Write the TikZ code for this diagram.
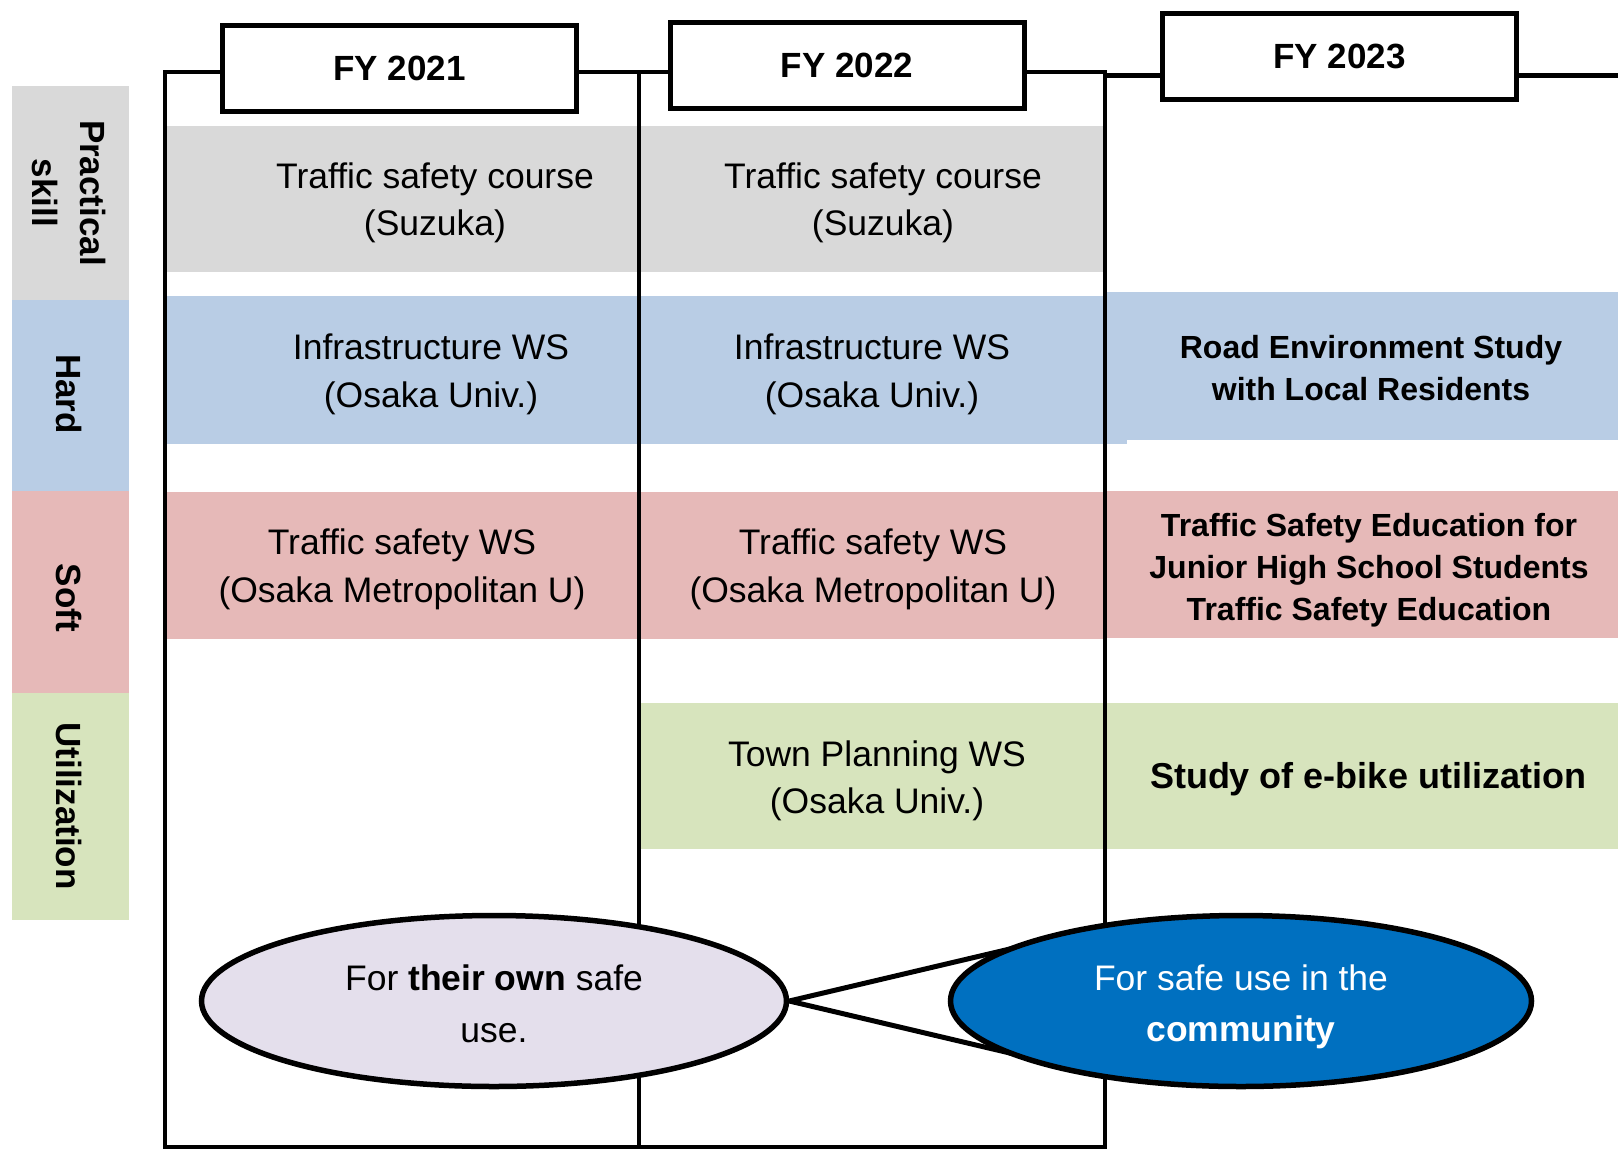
\documentclass[tikz,border=0pt]{standalone}
\usepackage{fontspec}
\setmainfont{Liberation Sans}
\usetikzlibrary{shapes.geometric,backgrounds,calc}
\definecolor{skillgray}{HTML}{D9D9D9}
\definecolor{hardblue}{HTML}{B9CDE5}
\definecolor{softpink}{HTML}{E6B9B8}
\definecolor{usegreen}{HTML}{D7E4BD}
\definecolor{ownlav}{HTML}{E4DFEC}
\definecolor{commblue}{HTML}{0070C0}
\begin{document}
\begin{tikzpicture}[x=1pt,y=-1pt,
  yearbox/.style={draw=black, line width=5pt, fill=white, minimum width=354pt,
    minimum height=86pt, inner sep=0pt, font=\fontsize{35}{42}\selectfont\bfseries},
  frameline/.style={draw=black, line width=4.5pt},
  catlabel/.style={rotate=-90, align=center, inner sep=0pt,
    font=\fontsize{35}{47.5}\selectfont\bfseries},
  worktext/.style={align=center, inner sep=0pt, font=\fontsize{35.5}{47.5}\selectfont},
  newtext/.style={align=center, inner sep=0pt, font=\fontsize{32}{42}\selectfont\bfseries},
  goal/.style={ellipse, draw=black, line width=5.5pt, inner sep=0pt},
  goaltext/.style={align=center, inner sep=0pt, font=\fontsize{35.5}{51.5}\selectfont},
]
\useasboundingbox (0,0) rectangle (1618,1149);

% category column
\fill[skillgray] (12,86) rectangle (129,300);
\fill[hardblue] (12,300) rectangle (129,491);
\fill[softpink] (12,491) rectangle (129,693);
\fill[usegreen] (12,693) rectangle (129,920);
\node[catlabel] (cskill) at (69,193) {Practical\\skill};
\node[catlabel] (chard) at (69,394) {Hard};
\node[catlabel] (csoft) at (69,598) {Soft};
\node[catlabel] (cuse) at (69,806) {Utilization};

% activity bands, FY 2021
\fill[skillgray] (167,126) rectangle (637,272);
\fill[hardblue] (167,296) rectangle (637,444);
\fill[softpink] (167,492) rectangle (637,639);
% FY 2022
\fill[skillgray] (641,126) rectangle (1103,272);
\fill[hardblue] (641,296) rectangle (1127,444);
\fill[softpink] (641,492) rectangle (1103,639);
\fill[usegreen] (641,703) rectangle (1103,849);
% FY 2023
\fill[hardblue] (1107,292) rectangle (1618,440);
\fill[softpink] (1107,491) rectangle (1618,638);
\fill[usegreen] (1107,703) rectangle (1618,849);

% year frames
\draw[frameline] (165,72) rectangle (639,1147);
\draw[frameline] (639,72) rectangle (1105,1147);
\draw[frameline] (1105,75.5) -- (1618,75.5);

% year headers
\node[yearbox] (fy21) at (399.5,68.5) {FY 2021};
\node[yearbox] (fy22) at (847,65) {FY 2022};
\node[yearbox] (fy23) at (1339.5,56.5) {FY 2023};

% activities
\node[worktext] (w21a) at (435,203) {Traffic safety course\\(Suzuka)};
\node[worktext] (w21b) at (431,374.5) {Infrastructure WS\\(Osaka Univ.)};
\node[worktext] (w21c) at (402,569.5) {Traffic safety WS\\(Osaka Metropolitan U)};
\node[worktext] (w22a) at (883,203) {Traffic safety course\\(Suzuka)};
\node[worktext] (w22b) at (872,374.5) {Infrastructure WS\\(Osaka Univ.)};
\node[worktext] (w22c) at (873,569.5) {Traffic safety WS\\(Osaka Metropolitan U)};
\node[worktext] (w22d) at (877,781) {Town Planning WS\\(Osaka Univ.)};
\node[newtext] (w23b) at (1371,368) {Road Environment Study\\with Local Residents};
\node[newtext] (w23c) at (1369,570.5) {Traffic Safety Education for\\Junior High School Students\\Traffic Safety Education};
\node[newtext, font=\fontsize{36}{42}\selectfont\bfseries] (w23d) at (1368,779) {Study of e-bike utilization};

% goals
\node[goal, fill=ownlav, minimum width=585pt, minimum height=171pt] (own) at (494,1001) {};
\node[goal, fill=commblue, minimum width=581pt, minimum height=171pt] (comm) at (1241,1001) {};
\node[goaltext] (owntxt) at (494,1004) {For \textbf{their own} safe\\use.};
\node[goaltext, text=white] (commtxt) at (1241,1007) {For safe use in the\\\textbf{community}};
\begin{scope}[on background layer]
  \draw[line width=5pt, line join=round]
    ($(comm.center)!0.95!(comm.159)$) -- (own.east) -- ($(comm.center)!0.95!(comm.201)$);
\end{scope}
\end{tikzpicture}
\end{document}
